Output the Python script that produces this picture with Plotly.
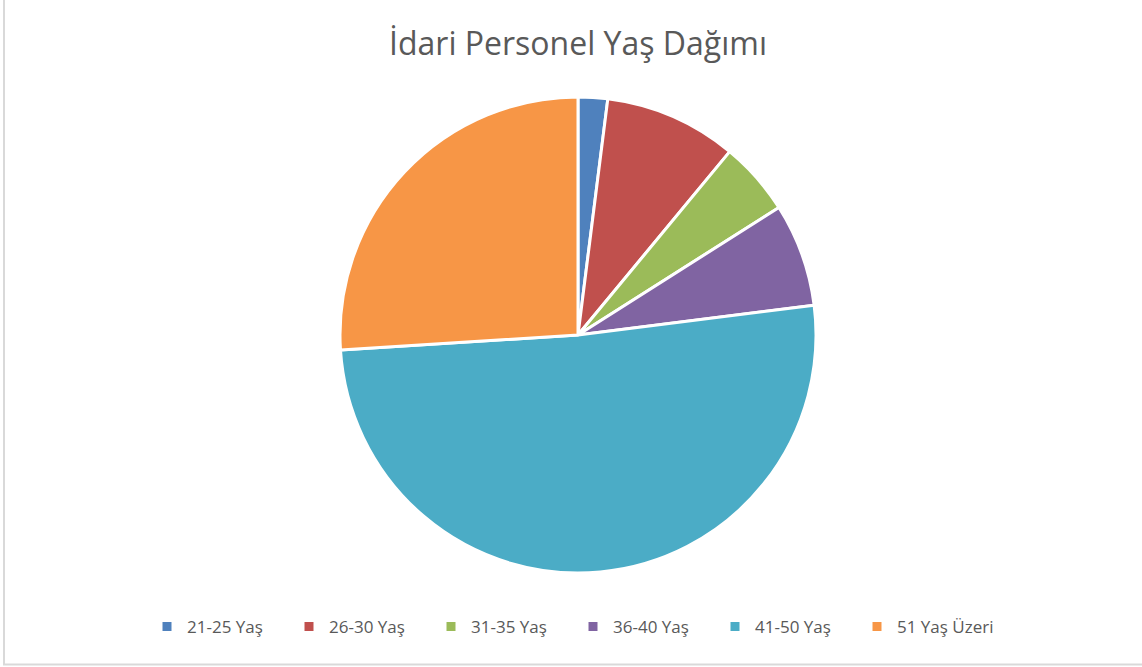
import plotly.graph_objects as go

categories = ["21-25 Yaş", "26-30 Yaş", "31-35 Yaş", "36-40 Yaş", "41-50 Yaş", "51 Yaş Üzeri"]
values = [2, 9, 5, 7, 51, 26]
colors = ["#4F81BD", "#C0504D", "#9BBB59", "#8064A2", "#4BACC6", "#F79646"]

W, H = 1142, 667
cx, cy, r = 578, 335, 238

fig = go.Figure(go.Pie(
    labels=categories,
    values=values,
    sort=False,
    direction="clockwise",
    rotation=0,
    textinfo="none",
    hoverinfo="label+value+percent",
    marker=dict(colors=colors, line=dict(color="white", width=3)),
    domain=dict(x=[(cx - r) / W, (cx + r) / W], y=[1 - (cy + r) / H, 1 - (cy - r) / H]),
))

fig.update_layout(
    width=W, height=H,
    margin=dict(l=0, r=0, t=0, b=0),
    paper_bgcolor="white",
    plot_bgcolor="white",
    title=dict(
        text="İdari Personel Yaş Dağımı",
        x=cx / W, xanchor="center",
        y=1 - 44 / H, yanchor="middle", yref="container",
        font=dict(family="Open Sans", size=32, color="#595959"),
    ),
    legend=dict(
        orientation="h",
        x=573 / W, xanchor="center",
        y=1 - 627 / H, yanchor="middle",
        font=dict(family="Open Sans", size=17, color="#595959"),
        entrywidth=97, entrywidthmode="pixels",
        itemclick=False,
    ),
    shapes=[dict(
        type="rect", xref="paper", yref="paper",
        x0=4 / W, x1=1.01, y0=(H - 664.5) / H, y1=1.01,
        line=dict(color="#D9D9D9", width=2), fillcolor="rgba(0,0,0,0)",
        layer="below",
    )],
)

fig.write_html(
    "out.html",
    config={"displayModeBar": False},
    post_script="document.body.style.margin='0';document.body.style.overflow='hidden';",
)
